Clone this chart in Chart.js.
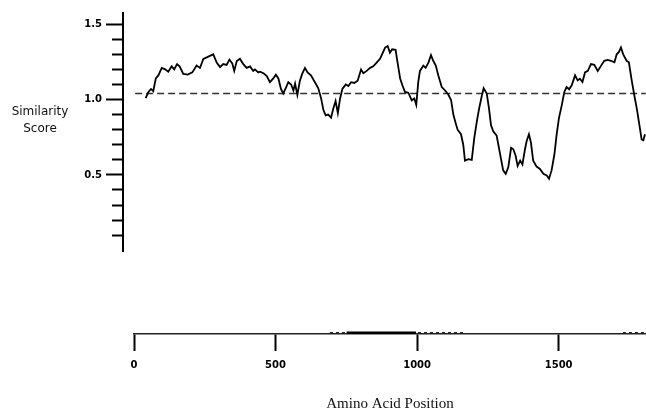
<!DOCTYPE html>
<html>
<head>
<meta charset="utf-8">
<script src="https://cdn.jsdelivr.net/npm/chart.js@4.4.1/dist/chart.umd.min.js"></script>
<style>
  html, body { margin: 0; padding: 0; background: #fff; }
  #wrap { position: relative; width: 646px; height: 419px; overflow: hidden; }
  #plotCanvas { position: absolute; left: 0; top: 0; }
  #axisCanvas { position: absolute; left: 0; top: 300px; }
  .ylab {
    position: absolute; left: 0; top: 103px; width: 80px;
    text-align: center; font: 12px "DejaVu Sans", sans-serif;
    line-height: 17px; color: #111;
  }
</style>
</head>
<body>
<div id="wrap">
  <canvas id="plotCanvas" width="646" height="262"></canvas>
  <canvas id="axisCanvas" width="646" height="119"></canvas>
  <div class="ylab">Similarity<br>Score</div>
</div>
<script>
// amino acid position vs similarity score
const POSITIONS = [
  41, 51, 60, 68, 77, 86, 98, 110, 121, 133, 142, 152, 161, 174, 190, 206, 221, 233, 245, 257,
  268, 280, 292, 304, 315, 327, 337, 347, 354, 363, 374, 386, 398, 410, 421, 427, 439, 445, 457, 469,
  480, 492, 501, 510, 519, 527, 536, 545, 555, 563, 569, 577, 586, 594, 604, 613, 625, 639, 651, 661,
  669, 677, 686, 696, 704, 712, 720, 728, 736, 748, 757, 767, 778, 790, 802, 810, 822, 834, 845, 857,
  869, 881, 887, 896, 904, 912, 924, 931, 940, 948, 957, 969, 981, 990, 997, 1004, 1010, 1022, 1030, 1040,
  1049, 1057, 1066, 1075, 1087, 1099, 1110, 1120, 1128, 1136, 1143, 1155, 1163, 1169, 1181, 1193, 1202, 1211, 1219, 1228,
  1235, 1246, 1254, 1261, 1269, 1281, 1293, 1304, 1313, 1322, 1332, 1340, 1348, 1355, 1364, 1372, 1381, 1387, 1395, 1402,
  1410, 1422, 1434, 1446, 1458, 1466, 1475, 1485, 1493, 1501, 1511, 1520, 1528, 1537, 1546, 1558, 1567, 1575, 1584, 1593,
  1603, 1614, 1626, 1638, 1650, 1661, 1673, 1685, 1697, 1705, 1713, 1720, 1728, 1740, 1748, 1758, 1767, 1776, 1784, 1793,
  1799, 1805
];
const SCORES = [
  1.01, 1.05, 1.07, 1.055, 1.14, 1.16, 1.21, 1.20, 1.185, 1.22, 1.20, 1.235, 1.22, 1.17, 1.165, 1.18, 1.225, 1.21, 1.27, 1.28,
  1.29, 1.30, 1.245, 1.215, 1.235, 1.23, 1.265, 1.24, 1.19, 1.255, 1.27, 1.235, 1.21, 1.22, 1.19, 1.20, 1.18, 1.185, 1.175, 1.155,
  1.115, 1.14, 1.165, 1.14, 1.07, 1.04, 1.075, 1.115, 1.10, 1.06, 1.105, 1.03, 1.125, 1.17, 1.21, 1.18, 1.16, 1.115, 1.075, 1.007,
  0.93, 0.895, 0.90, 0.88, 0.94, 0.99, 0.91, 1.007, 1.07, 1.10, 1.09, 1.115, 1.11, 1.125, 1.20, 1.175, 1.19, 1.21, 1.22, 1.245,
  1.27, 1.32, 1.345, 1.355, 1.31, 1.333, 1.33, 1.245, 1.14, 1.095, 1.05, 1.045, 0.995, 1.007, 0.965, 1.115, 1.19, 1.225, 1.21, 1.245,
  1.295, 1.257, 1.225, 1.16, 1.083, 1.06, 1.033, 0.996, 0.90, 0.845, 0.80, 0.77, 0.70, 0.595, 0.605, 0.60, 0.745, 0.855, 0.94, 1.02,
  1.075, 1.04, 0.94, 0.83, 0.79, 0.76, 0.64, 0.53, 0.507, 0.55, 0.68, 0.67, 0.627, 0.56, 0.595, 0.57, 0.67, 0.725, 0.77, 0.715,
  0.595, 0.555, 0.54, 0.507, 0.496, 0.475, 0.53, 0.637, 0.77, 0.877, 0.963, 1.05, 1.083, 1.068, 1.094, 1.16, 1.127, 1.138, 1.116, 1.18,
  1.19, 1.235, 1.23, 1.19, 1.225, 1.257, 1.263, 1.257, 1.247, 1.30, 1.316, 1.345, 1.30, 1.257, 1.247, 1.127, 1.03, 0.94, 0.845, 0.735,
  0.73, 0.77
];

// dashed reference level and its extent
const THRESHOLD = 1.04;
const THRESHOLD_SPAN = [4, 1808];

// bar marks sitting on the position axis
const DOMAIN_SOLID = [751, 996];
const DOMAIN_DOTTED = [[692, 745], [1003, 1162], [1727, 1808]];

const Y_MAJOR = [0.5, 1.0, 1.5];
const Y_MINOR = [0.1, 0.2, 0.3, 0.4, 0.6, 0.7, 0.8, 0.9, 1.1, 1.2, 1.3, 1.4];
const X_TICKS = [0, 500, 1000, 1500];

const X_MIN_PLOT = -38.9, X_MIN_AXIS = 0, X_MAX = 1808.5;
const Y_MIN = -0.01, Y_MAX = 1.574;

const TICK_FONT = { family: '"DejaVu Sans", sans-serif', size: 10, weight: 'bold' };

function fixedTicks(list) {
  return scale => { scale.ticks = list.map(v => ({ value: v })); };
}

// upper chart: the score trace with its left axis
new Chart(document.getElementById('plotCanvas'), {
  type: 'line',
  data: {
    datasets: [
      {
        data: POSITIONS.map((x, i) => ({ x, y: SCORES[i] })),
        borderColor: '#000',
        borderWidth: 1.8,
        pointRadius: 0,
        tension: 0,
        order: 0
      },
      {
        data: THRESHOLD_SPAN.map(x => ({ x, y: THRESHOLD })),
        borderColor: '#333',
        borderWidth: 1.5,
        borderDash: [7, 4],
        pointRadius: 0,
        order: 1
      }
    ]
  },
  options: {
    responsive: false,
    animation: false,
    layout: { padding: { top: 13, bottom: 6, left: 0, right: 0 } },
    plugins: { legend: { display: false }, tooltip: { enabled: false } },
    scales: {
      x: { type: 'linear', display: false, min: X_MIN_PLOT, max: X_MAX },
      y: {
        position: 'left',
        weight: 1,
        min: Y_MIN,
        max: Y_MAX,
        afterBuildTicks: fixedTicks(Y_MAJOR),
        afterFit: s => { s.width = 123; },
        border: { display: true, color: '#000', width: 2 },
        grid: { drawOnChartArea: false, tickLength: 17, tickWidth: 2, tickColor: '#000' },
        ticks: {
          autoSkip: false,
          padding: 4,
          color: '#000',
          font: TICK_FONT,
          callback: v => v.toFixed(1)
        }
      },
      yMinor: {
        position: 'left',
        weight: 0,
        min: Y_MIN,
        max: Y_MAX,
        afterBuildTicks: fixedTicks(Y_MINOR),
        afterFit: s => { s.width = 0; },
        border: { display: false },
        grid: { drawOnChartArea: false, tickLength: 11, tickWidth: 2, tickColor: '#000' },
        ticks: { autoSkip: false, callback: () => '' }
      }
    }
  }
});

// lower chart: the position axis on its own
const domainSets = [
  {
    data: DOMAIN_SOLID.map(x => ({ x, y: 0 })),
    borderColor: '#000',
    borderWidth: 3,
    pointRadius: 0
  }
].concat(DOMAIN_DOTTED.map(seg => ({
  data: seg.map(x => ({ x, y: 0 })),
  borderColor: '#222',
  borderWidth: 2,
  borderDash: [3, 3],
  pointRadius: 0
})));

new Chart(document.getElementById('axisCanvas'), {
  type: 'line',
  data: { datasets: domainSets },
  options: {
    responsive: false,
    animation: false,
    layout: { padding: { top: 0, bottom: 0, left: 134, right: 0 } },
    plugins: { legend: { display: false }, tooltip: { enabled: false } },
    scales: {
      y: { display: false, min: -0.03, max: 1 },
      x: {
        type: 'linear',
        min: X_MIN_AXIS,
        max: X_MAX,
        afterBuildTicks: fixedTicks(X_TICKS),
        afterFit: s => { s.height = 85; },
        border: { display: true, color: '#222', width: 1.5 },
        grid: { drawOnChartArea: false, tickLength: 17, tickWidth: 2, tickColor: '#000' },
        ticks: {
          autoSkip: false,
          maxRotation: 0,
          padding: 8,
          color: '#000',
          font: TICK_FONT,
          callback: v => String(v)
        },
        title: {
          display: true,
          text: 'Amino Acid Position',
          color: '#111',
          font: { family: '"Liberation Serif", serif', size: 15 },
          padding: { top: 0, bottom: 6 }
        }
      }
    }
  }
});
</script>
</body>
</html>
